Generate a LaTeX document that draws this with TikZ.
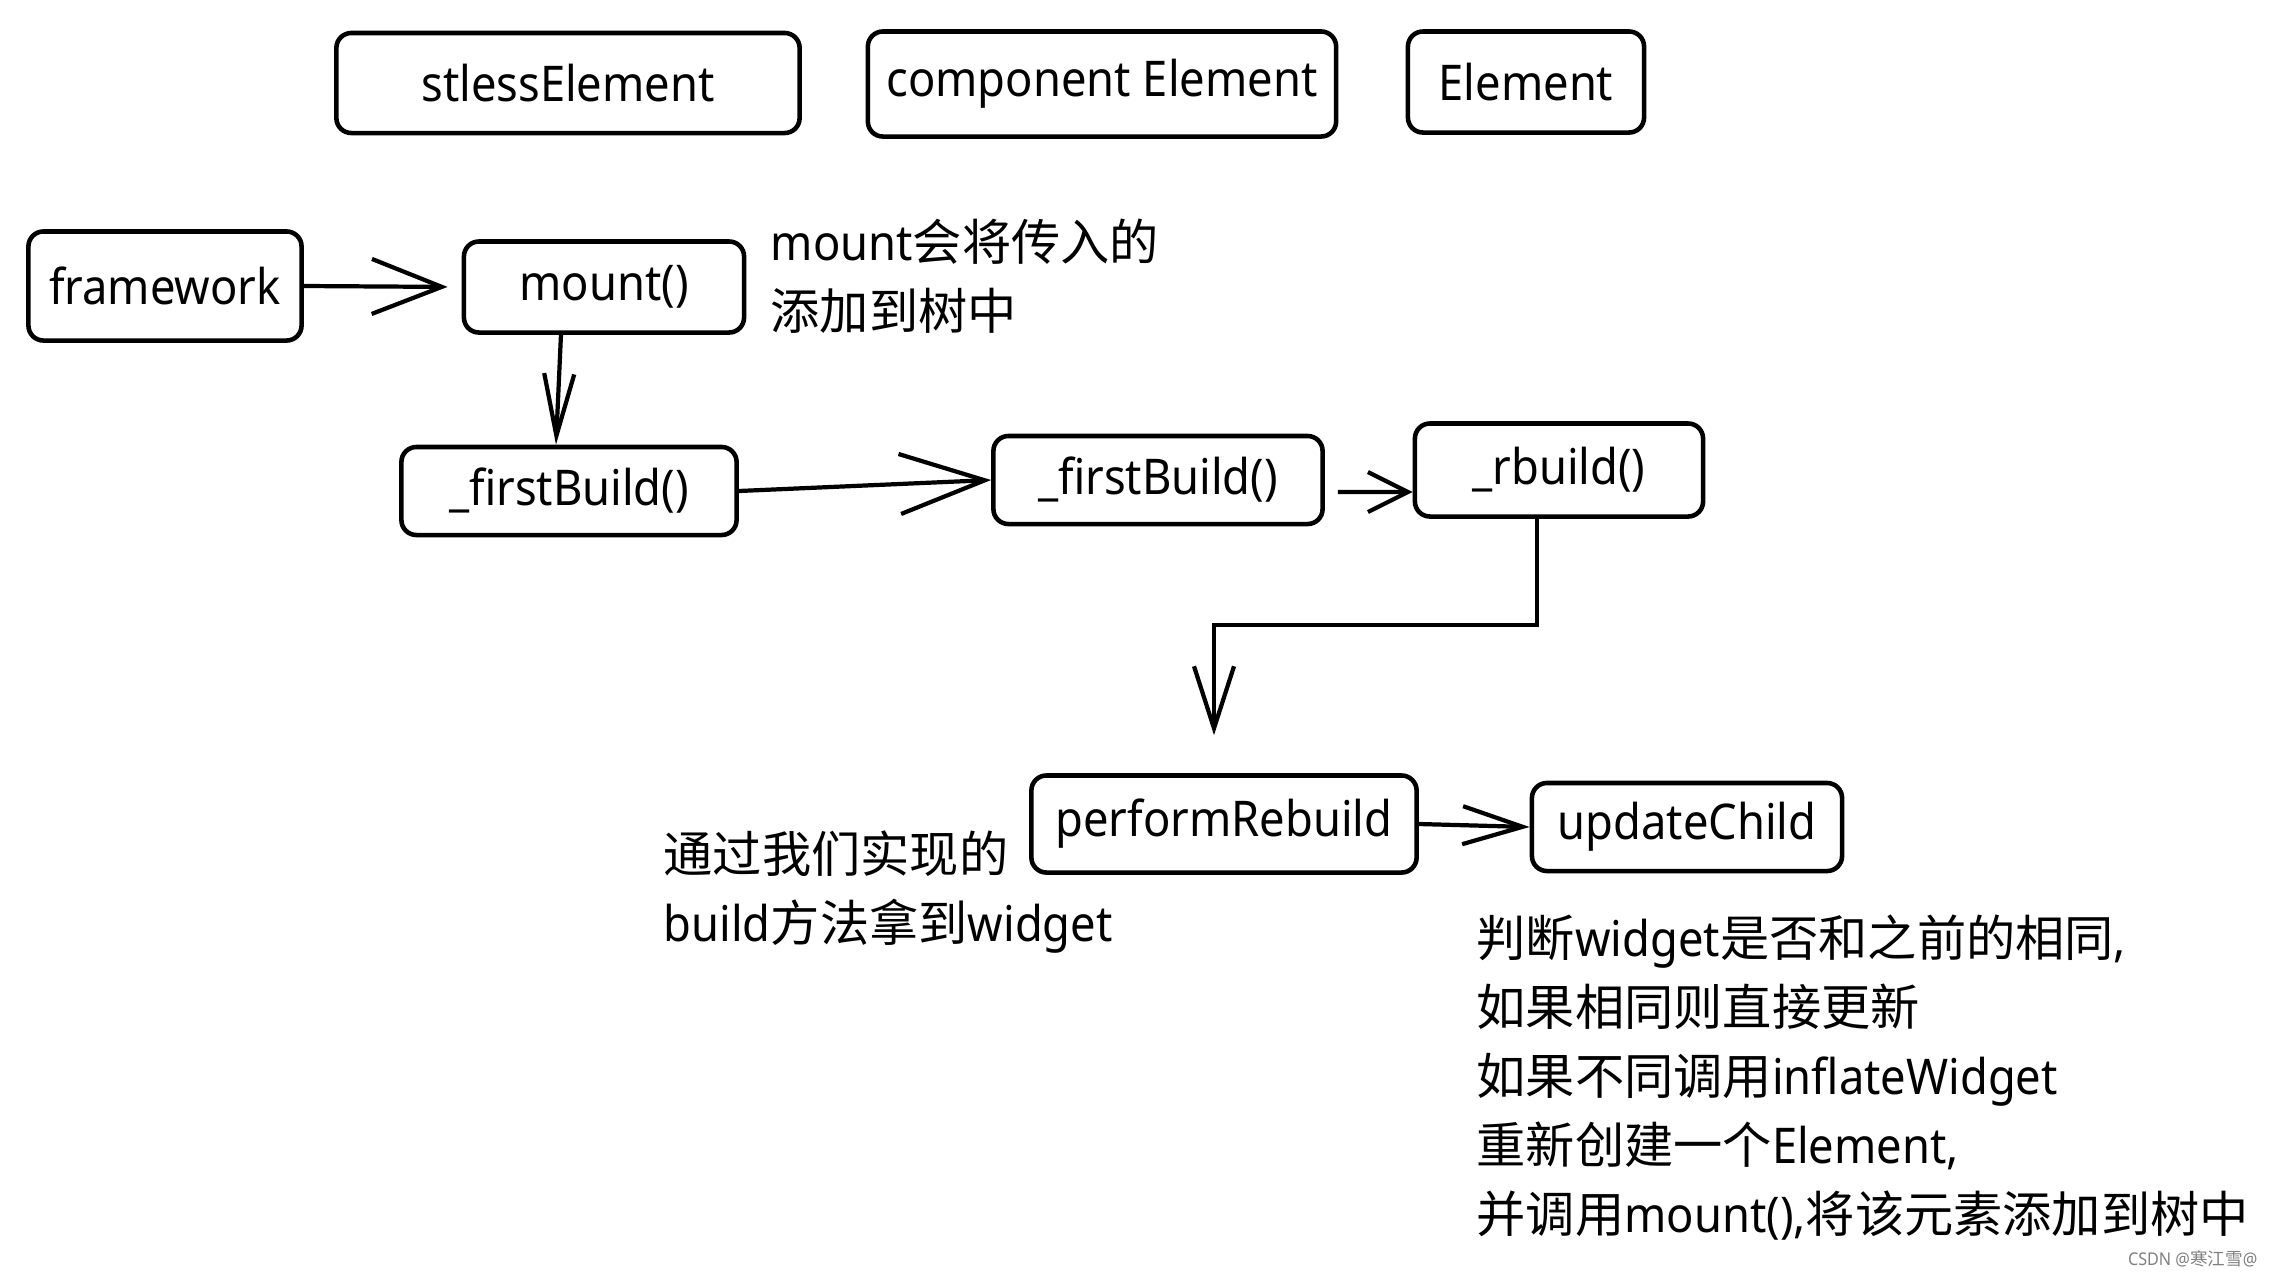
\documentclass[tikz,border=0pt]{standalone}
\usepackage{fontspec}
\setmainfont[FakeStretch=0.92]{Noto Sans}
\newfontfamily\cjk{Noto Sans CJK SC}
\usetikzlibrary{arrows.meta}
\tikzset{
  txt/.style={font=\fontsize{14pt}{19.6pt}\selectfont},
  box/.style={txt, draw, line width=1.3pt, rounded corners=0.15cm, inner sep=0pt, align=center},
  note/.style={txt, inner sep=0pt, anchor=north west, align=left},
  conn/.style={line width=1.2pt},
}
\begin{document}
\begin{tikzpicture}[x=0.01cm,y=-0.01cm]
\useasboundingbox (0,0) rectangle (2269,1278);
% top row
\node[box, minimum width=4.63cm, minimum height=1.00cm] (stless) at (568,83) {stlessElement};
\node[box, minimum width=4.68cm, minimum height=1.05cm] (comp) at (1102,84) {component Element};
\node[box, minimum width=2.36cm, minimum height=1.01cm] (elem) at (1526,82) {Element};
% flow
\node[box, minimum width=2.73cm, minimum height=1.09cm] (fw) at (165,286) {framework};
\node[box, minimum width=2.80cm, minimum height=0.91cm] (mount) at (604,287) {mount()};
\node[box, minimum width=3.35cm, minimum height=0.88cm] (fb1) at (569,491) {\_firstBuild()};
\node[box, minimum width=3.29cm, minimum height=0.88cm] (fb2) at (1158,480) {\_firstBuild()};
\node[box, minimum width=2.88cm, minimum height=0.93cm] (rb) at (1559,470) {\_rbuild()};
\node[box, minimum width=3.85cm, minimum height=0.97cm] (perf) at (1224,824) {performRebuild};
\node[box, minimum width=3.10cm, minimum height=0.88cm] (upd) at (1687,827) {updateChild};
% notes
\node[note] (n1) at (770,218) {mount{\cjk 会将传入的}\\{\cjk 添加到树中}};
\node[note] (n2) at (663,830) {{\cjk 通过我们实现的}\\build{\cjk 方法拿到}widget};
\node[note] (n3) at (1476,914) {{\cjk 判断}widget{\cjk 是否和之前的相同},\\{\cjk 如果相同则直接更新}\\{\cjk 如果不同调用}inflateWidget\\{\cjk 重新创建一个}Element,\\{\cjk 并调用}mount(),{\cjk 将该元素添加到树中}};
\node[anchor=east, inner sep=0pt, text=gray, font=\fontsize{5pt}{6pt}\selectfont] (wm) at (2258,1259) {CSDN @{\cjk 寒江雪}@};
% connectors
\draw[conn, -{Straight Barb[length=0.7cm,width=0.55cm]}, shorten >=0.14cm] (fw.east) -- (mount.west);
\draw[conn, -{Straight Barb[length=0.62cm,width=0.3cm]}] ([xshift=-0.43cm]mount.south) -- ([xshift=-0.13cm]fb1.north);
\draw[conn, -{Straight Barb[length=0.85cm,width=0.6cm]}] (fb1.east) -- (fb2.west);
\draw[conn, -{Straight Barb[length=0.4cm,width=0.4cm]}, shorten <=0.13cm] ([yshift=-0.12cm]fb2.east) -- ([yshift=-0.22cm]rb.west);
\coordinate (k1) at (1537,625);
\coordinate (k2) at (1214,625);
\draw[conn, -{Straight Barb[length=0.62cm,width=0.4cm]}, shorten >=0.38cm] (rb.south -| k1) -- (k1) -- (k2) -- (k2 |- perf.north);
\draw[conn, -{Straight Barb[length=0.6cm,width=0.38cm]}] (perf.east) -- (upd.west);
\end{tikzpicture}
\end{document}
